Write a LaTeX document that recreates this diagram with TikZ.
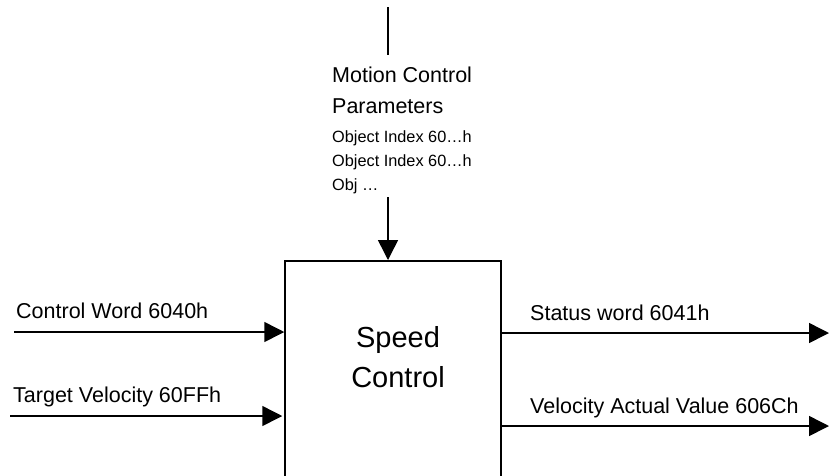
\documentclass[tikz,border=0pt]{standalone}
\usepackage{fontspec}
\setmainfont{Liberation Sans}
\usetikzlibrary{arrows.meta}
\begin{document}
\begin{tikzpicture}[x=1pt,y=-1pt,
  conn/.style={line width=1.5pt},
  arr/.style={line width=1.5pt,-{Triangle[length=20pt,width=20pt]}},
  lbl/.style={anchor=base west,inner sep=0pt,font=\fontsize{21.5}{24}\selectfont},
  small/.style={anchor=base west,inner sep=0pt,font=\fontsize{16.3}{20}\selectfont},
  big/.style={anchor=base,inner sep=0pt,font=\fontsize{29}{34}\selectfont}]
\clip (0,0) rectangle (829,475);
\fill[white] (0,0) rectangle (829,475);
% main block
\node[draw,line width=1.5pt,minimum width=216pt,minimum height=300pt,anchor=north,inner sep=0pt] (sc) at (393,260) {};
\node[big] (speed) at (398,347) {Speed};
\node[big] (control) at (398,387) {Control};
% top parameters
\coordinate (t1) at (388,7);
\coordinate (t2) at (388,55);
\draw[conn] (t1) -- (t2);
\node[lbl] (mc1) at (332,82) {Motion Control};
\node[lbl] (mc2) at (332,113) {Parameters};
\node[small] (ob1) at (332,142) {Object Index 60…h};
\node[small] (ob2) at (332,166) {Object Index 60…h};
\node[small] (ob3) at (332,190) {Obj …};
\coordinate (mp) at (388,197);
\draw[arr] (mp) -- (mp |- sc.north);
% inputs
\coordinate (cw) at (14,332);
\coordinate (tv) at (10,416);
\node[lbl] (cwl) at (16,318) {Control Word 6040h};
\node[lbl] (tvl) at (13,402) {Target Velocity 60FFh};
\draw[arr] (cw) -- (cw -| sc.west);
\draw[arr] (tv) -- ([xshift=-2pt]tv -| sc.west);
% outputs
\coordinate (sw) at (829,333);
\coordinate (va) at (829,426);
\node[lbl] (swl) at (530,320) {Status word 6041h};
\node[lbl] (val) at (530,413) {Velocity Actual Value 606Ch};
\draw[arr] (sw -| sc.east) -- (sw);
\draw[arr] (va -| sc.east) -- (va);
\end{tikzpicture}
\end{document}
